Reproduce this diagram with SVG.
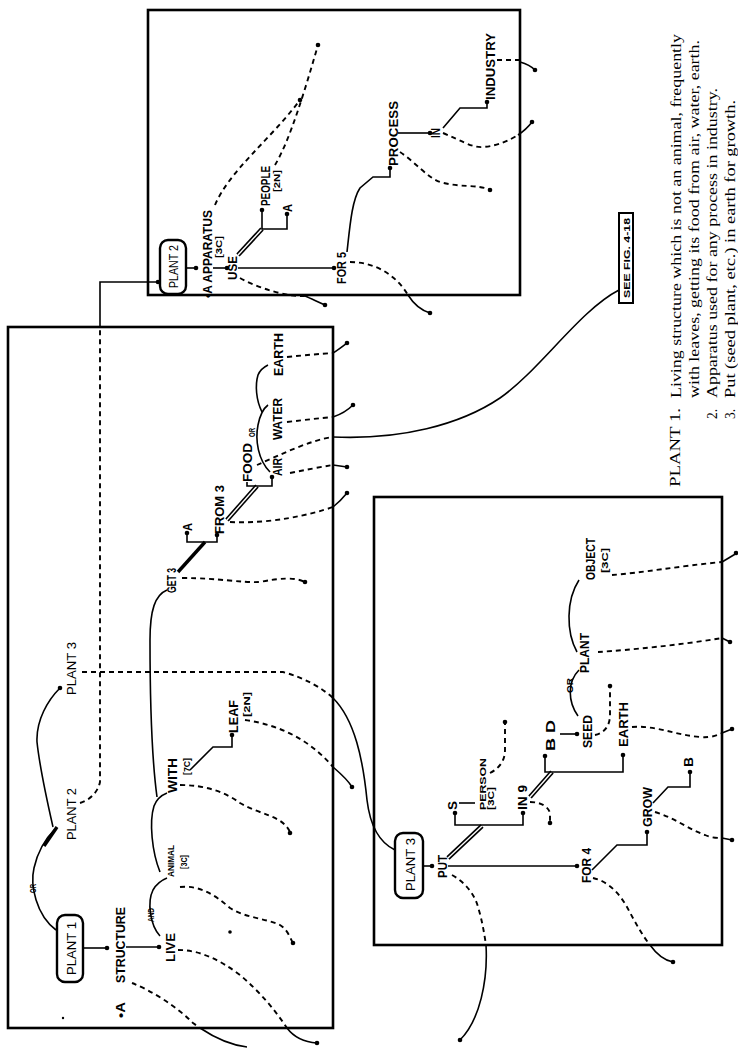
<svg xmlns="http://www.w3.org/2000/svg" width="738" height="1048" viewBox="0 0 738 1048">
<style>
.box{fill:none;stroke:#000;stroke-width:2.6}
.ln{fill:none;stroke:#000;stroke-width:1.6}
.tk{fill:none;stroke:#000;stroke-width:3.4}
.dl{fill:none;stroke:#000;stroke-width:4.6}
.dw{fill:none;stroke:#fff;stroke-width:1.4}
.ds{fill:none;stroke:#000;stroke-width:1.9;stroke-dasharray:5 4}
.node{fill:#fff;stroke:#000;stroke-width:2.4}
.t{font-family:"Liberation Sans",Arial,sans-serif;font-weight:bold;font-size:13px}
.s{font-family:"Liberation Sans",Arial,sans-serif;font-weight:bold;font-size:9px}
.p{font-family:"Liberation Sans",Arial,sans-serif;font-size:13px}
.r{font-family:"Liberation Serif","Times New Roman",serif;font-size:14.5px}
</style>
<defs>
<circle id="d" r="2.3" fill="#000"/>
</defs>
<rect class="box" x="8" y="327" width="325" height="701"/>
<rect class="box" x="148" y="10" width="372" height="285"/>
<rect class="box" x="374" y="497" width="348" height="448"/>

<g id="connectors">
<!-- box 1 -->
<path class="ln" d="M83,948 H107"/><use href="#d" x="107" y="948"/>
<path class="ln" d="M126,947 H159"/><use href="#d" x="159" y="947"/>
<path class="ln" d="M56,930 C36,915 30,885 34,868 C38,850 46,838 55,829"/>
<path class="tk" d="M44,846 L57,827"/>
<path class="ln" d="M53,827 C48,805 40,770 37,742 C36,720 48,700 60,688"/><use href="#d" x="60" y="688"/>
<path class="ds" d="M80,803 C90,800 98,792 100,782 V327"/>
<path class="ln" d="M100,327 V282 H158"/><use href="#d" x="158" y="282"/>
<path class="ds" d="M82,672 H283 C305,678 322,688 333,698"/>
<path class="ln" d="M333,698 C355,720 363,760 367,800 C370,825 378,842 395,850"/>
<path class="ln" d="M160,936 C150,925 147,902 153,890 C157,883 162,880 167,878"/>
<path class="ln" d="M160,872 C152,852 149,822 154,806 C157,798 162,795 167,793"/>
<path class="ln" d="M157,797 C152,760 150,700 150,640 C150,610 155,595 167,590"/>
<path class="tk" d="M178,572 L205,542"/>
<path class="ln" d="M187,533 V542 H217 V535"/><use href="#d" x="187" y="533"/><use href="#d" x="217" y="535"/>
<path class="dl" d="M227,520 L257,486"/><path class="dw" d="M227,520 L257,486"/>
<path class="ln" d="M257,486 H247 V482"/><path class="ln" d="M257,486 H272 V477"/><use href="#d" x="272" y="477"/>
<path class="ln" d="M270,472 C258,460 255,440 258,425 C260,415 264,408 268,405"/>
<path class="ln" d="M262,412 C256,400 255,385 258,375 C260,370 264,367 268,365"/>
<path class="ds" d="M287,357 C305,355 320,354 333,353"/><path class="ln" d="M333,353 C338,350 343,346 347,343"/><use href="#d" x="347" y="343"/>
<path class="ds" d="M287,422 C305,420 320,418 333,417"/><path class="ln" d="M333,417 C342,414 348,410 353,405"/><use href="#d" x="353" y="405"/>
<path class="ds" d="M257,465 C280,455 310,440 333,437"/>
<path class="ln" d="M333,437 C400,440 460,425 500,398 C540,370 580,310 619,290"/>
<path class="ds" d="M290,473 C305,470 320,467 333,465"/><path class="ln" d="M333,465 L347,467"/><use href="#d" x="347" y="467"/>
<path class="ds" d="M230,522 C270,524 310,515 333,507"/><path class="ln" d="M333,507 C338,503 343,498 347,493"/><use href="#d" x="347" y="493"/>
<path class="ds" d="M182,578 C220,578 240,583 260,582 C280,578 295,577 305,582"/><use href="#d" x="305" y="582"/>
<path class="ln" d="M190,770 L213,747 H232 V735"/><use href="#d" x="232" y="735"/>
<path class="ds" d="M245,720 C280,725 310,740 333,767"/><path class="ln" d="M333,767 C340,773 348,780 352,787"/><use href="#d" x="352" y="787"/>
<path class="ds" d="M180,785 C205,785 225,792 240,803 C260,815 282,815 290,832"/><use href="#d" x="290" y="833"/>
<path class="ds" d="M180,887 C200,885 215,895 230,908 C245,918 265,918 280,925 C288,930 290,938 293,943"/><use href="#d" x="293" y="943"/>
<path class="ds" d="M178,950 C200,950 220,960 240,975 C260,992 275,1010 287,1028"/><path class="ln" d="M287,1028 C293,1036 302,1042 317,1043"/><use href="#d" x="317" y="1043"/>
<path class="ds" d="M132,983 C150,990 175,1005 193,1023 L200,1028"/><path class="ln" d="M200,1028 C215,1038 230,1045 247,1047"/>
<!-- box 2 -->
<path class="ln" d="M186,268 H196"/><use href="#d" x="196" y="268"/>
<path class="ln" d="M213,268 H227"/><use href="#d" x="227" y="268"/>
<path class="ln" d="M238,268 H334"/><use href="#d" x="334" y="268"/>
<path class="dl" d="M238,255 L262,229"/><path class="dw" d="M238,255 L262,229"/>
<path class="ln" d="M262,212 V229 H287 V214"/><use href="#d" x="262" y="210"/><use href="#d" x="287" y="214"/>
<path class="ln" d="M347,252 C350,225 352,200 360,188 L373,177 H390 V168"/><use href="#d" x="390" y="168"/>
<path class="ln" d="M398,133 H430"/><use href="#d" x="430" y="133"/>
<path class="ln" d="M443,128 L460,108 H487 V102"/><use href="#d" x="487" y="102"/>
<path class="ds" d="M497,60 H520"/><path class="ln" d="M520,62 C527,64 532,67 535,70"/><use href="#d" x="535" y="70"/>
<path class="ds" d="M443,133 C460,140 472,148 483,147 C498,146 510,140 518,135"/><path class="ln" d="M518,135 C524,131 529,126 532,122"/><use href="#d" x="532" y="122"/>
<path class="ds" d="M400,152 C415,162 428,178 440,182 C460,188 478,184 490,190"/><use href="#d" x="490" y="190"/>
<path class="ds" d="M350,262 C375,262 396,275 408,295"/><path class="ln" d="M408,295 C413,303 420,310 430,313"/><use href="#d" x="430" y="313"/>
<path class="ds" d="M240,278 C262,290 290,297 305,296"/><path class="ln" d="M305,296 C312,299 318,302 325,305"/><use href="#d" x="325" y="305"/>
<path class="ds" d="M215,205 C230,170 270,140 300,100"/><use href="#d" x="300" y="100"/>
<path class="ds" d="M275,165 C290,140 305,90 318,45"/><use href="#d" x="318" y="45"/>
<!-- box 3 -->
<path class="ln" d="M423,866 H432"/><use href="#d" x="432" y="866"/>
<path class="ln" d="M448,866 H577"/><use href="#d" x="577" y="866"/>
<path class="dl" d="M448,858 L482,826"/><path class="dw" d="M448,858 L482,826"/>
<path class="ln" d="M455,813 V825 H523 V813"/><use href="#d" x="455" y="813"/><use href="#d" x="523" y="813"/>
<path class="ln" d="M459,803 H475"/>
<path class="dl" d="M530,797 L552,772"/><path class="dw" d="M530,797 L552,772"/>
<path class="ln" d="M545,757 V772 H623 V755"/><use href="#d" x="545" y="756"/><use href="#d" x="623" y="755"/>
<path class="ln" d="M560,734 H577"/><use href="#d" x="577" y="734"/>
<path class="ln" d="M578,716 C568,702 567,682 579,670"/>
<path class="ln" d="M577,652 C566,632 566,600 579,580"/>
<path class="ln" d="M592,870 L617,845 H647 V832"/><use href="#d" x="647" y="832"/>
<path class="ln" d="M653,803 L668,787 H690 V772"/><use href="#d" x="690" y="772"/>
<path class="ds" d="M490,773 C500,768 505,760 505,750 L505,722"/><use href="#d" x="505" y="722"/>
<path class="ds" d="M530,802 C540,802 548,806 550,813 L550,823"/><use href="#d" x="550" y="823"/>
<path class="ds" d="M595,735 C605,733 610,725 610,715 L610,686"/><use href="#d" x="610" y="686"/>
<path class="ds" d="M632,727 C655,725 675,735 700,737 C712,738 718,735 722,733"/><path class="ln" d="M722,733 L732,729"/><use href="#d" x="732" y="729"/>
<path class="ds" d="M598,652 C630,650 680,645 722,638"/><path class="ln" d="M722,638 L730,642"/><use href="#d" x="730" y="642"/>
<path class="ds" d="M612,575 C640,573 680,566 722,562"/><path class="ln" d="M722,562 L737,553"/><use href="#d" x="736" y="553"/>
<path class="ds" d="M655,812 C675,818 690,830 705,835 C712,838 718,838 722,838"/><path class="ln" d="M722,838 L732,840"/><use href="#d" x="732" y="840"/>
<path class="ds" d="M593,878 C610,882 620,895 627,907 C635,922 642,935 650,945"/><path class="ln" d="M650,945 C655,952 662,960 673,962"/><use href="#d" x="673" y="962"/>
<path class="ds" d="M452,875 C465,882 475,895 478,907 C482,920 484,932 486,945"/><path class="ln" d="M486,945 C488,980 480,1020 460,1040"/><use href="#d" x="460" y="1040"/>
</g>

<g id="plant1"><rect class="node" x="57" y="915" width="26" height="67" rx="8"/><text class="p" transform="translate(76,975) rotate(-90)" textLength="53" lengthAdjust="spacingAndGlyphs">PLANT 1</text></g>
<g id="structure"><text class="t" transform="translate(125,983) rotate(-90)" textLength="76" lengthAdjust="spacingAndGlyphs">STRUCTURE</text></g>
<g id="a1"><text class="t" transform="translate(125,1018) rotate(-90)" textLength="16" lengthAdjust="spacingAndGlyphs">•A</text></g>
<g id="live"><text class="t" transform="translate(175,962) rotate(-90)" textLength="29" lengthAdjust="spacingAndGlyphs">LIVE</text></g>
<g id="or1"><text class="s" transform="translate(36,893) rotate(-90)" textLength="9" lengthAdjust="spacingAndGlyphs">OR</text></g>
<g id="plant2lbl"><text class="p" transform="translate(76,840) rotate(-90)" textLength="52" lengthAdjust="spacingAndGlyphs">PLANT 2</text></g>
<g id="plant3lbl"><text class="p" transform="translate(76,695) rotate(-90)" textLength="53" lengthAdjust="spacingAndGlyphs">PLANT 3</text></g>
<g id="and"><text class="s" transform="translate(154,922) rotate(-90)" textLength="14" lengthAdjust="spacingAndGlyphs">AND</text></g>
<g id="animal"><text class="s" transform="translate(174,877) rotate(-90)" textLength="32" lengthAdjust="spacingAndGlyphs">ANIMAL</text><text class="s" transform="translate(187,869) rotate(-90)" textLength="14" lengthAdjust="spacingAndGlyphs">[3C]</text></g>
<g id="with"><text class="t" transform="translate(177,793) rotate(-90)" textLength="35" lengthAdjust="spacingAndGlyphs">WITH</text><text class="s" transform="translate(190,775) rotate(-90)" textLength="17" lengthAdjust="spacingAndGlyphs">[7C]</text></g>
<g id="leaf"><text class="t" transform="translate(238,733) rotate(-90)" textLength="33" lengthAdjust="spacingAndGlyphs">LEAF</text><text class="s" transform="translate(250,717) rotate(-90)" textLength="25" lengthAdjust="spacingAndGlyphs">[2N]</text></g>
<g id="get3"><text class="t" transform="translate(176,593) rotate(-90)" textLength="25" lengthAdjust="spacingAndGlyphs">GET 3</text></g>
<g id="a2"><text class="t" transform="translate(192,531) rotate(-90)" textLength="8" lengthAdjust="spacingAndGlyphs">A</text></g>
<g id="from3"><text class="t" transform="translate(224,534) rotate(-90)" textLength="49" lengthAdjust="spacingAndGlyphs">FROM 3</text></g>
<g id="food"><text class="t" transform="translate(252,482) rotate(-90)" textLength="39" lengthAdjust="spacingAndGlyphs">FOOD</text></g>
<g id="or2"><text class="s" transform="translate(255,437) rotate(-90)" textLength="9" lengthAdjust="spacingAndGlyphs">OR</text></g>
<g id="air"><text class="t" transform="translate(282,476) rotate(-90)" textLength="18" lengthAdjust="spacingAndGlyphs">AIR</text></g>
<g id="water"><text class="t" transform="translate(282,440) rotate(-90)" textLength="42" lengthAdjust="spacingAndGlyphs">WATER</text></g>
<g id="earth1"><text class="t" transform="translate(283,376) rotate(-90)" textLength="43" lengthAdjust="spacingAndGlyphs">EARTH</text></g>
<g id="dots"><circle cx="63" cy="1018" r="1.2"/><circle cx="230" cy="932" r="1.8"/></g>

<g id="plant2"><rect class="node" x="160" y="240" width="26" height="54" rx="8"/><text class="p" transform="translate(178,288) rotate(-90)" textLength="43" lengthAdjust="spacingAndGlyphs">PLANT 2</text></g>
<g id="apparatus"><text class="t" transform="translate(212,298) rotate(-90)" textLength="88" lengthAdjust="spacingAndGlyphs">•A APPARATUS</text><text class="s" transform="translate(222,258) rotate(-90)" textLength="22" lengthAdjust="spacingAndGlyphs">[3C]</text></g>
<g id="use"><text class="t" transform="translate(237,280) rotate(-90)" textLength="24" lengthAdjust="spacingAndGlyphs">USE</text></g>
<g id="people"><text class="t" transform="translate(270,206) rotate(-90)" textLength="40" lengthAdjust="spacingAndGlyphs">PEOPLE</text><text class="s" transform="translate(280,192) rotate(-90)" textLength="22" lengthAdjust="spacingAndGlyphs">[2N]</text></g>
<g id="a3"><text class="t" transform="translate(292,212) rotate(-90)" textLength="8" lengthAdjust="spacingAndGlyphs">A</text></g>
<g id="for5"><text class="t" transform="translate(346,284) rotate(-90)" textLength="32" lengthAdjust="spacingAndGlyphs">FOR 5</text></g>
<g id="process"><text class="t" transform="translate(398,166) rotate(-90)" textLength="65" lengthAdjust="spacingAndGlyphs">PROCESS</text></g>
<g id="in"><text class="t" transform="translate(440,138) rotate(-90)" textLength="10" lengthAdjust="spacingAndGlyphs">IN</text></g>
<g id="industry"><text class="t" transform="translate(495,100) rotate(-90)" textLength="67" lengthAdjust="spacingAndGlyphs">INDUSTRY</text></g>

<g id="plant3"><rect class="node" x="395" y="833" width="28" height="65" rx="8"/><text class="p" transform="translate(415,891) rotate(-90)" textLength="53" lengthAdjust="spacingAndGlyphs">PLANT 3</text></g>
<g id="put"><text class="t" transform="translate(447,878) rotate(-90)" textLength="23" lengthAdjust="spacingAndGlyphs">PUT</text></g>
<g id="s"><text class="t" transform="translate(457,810) rotate(-90)" textLength="9" lengthAdjust="spacingAndGlyphs">S</text></g>
<g id="person"><text class="s" transform="translate(486,810) rotate(-90)" textLength="52" lengthAdjust="spacingAndGlyphs">PERSON</text><text class="s" transform="translate(494,810) rotate(-90)" textLength="23" lengthAdjust="spacingAndGlyphs">[3C]</text></g>
<g id="in9"><text class="t" transform="translate(527,810) rotate(-90)" textLength="25" lengthAdjust="spacingAndGlyphs">IN 9</text></g>
<g id="bd"><text class="t" transform="translate(555,751) rotate(-90)" textLength="31" lengthAdjust="spacingAndGlyphs">B  D</text></g>
<g id="seed"><text class="t" transform="translate(592,748) rotate(-90)" textLength="33" lengthAdjust="spacingAndGlyphs">SEED</text></g>
<g id="earth2"><text class="t" transform="translate(628,747) rotate(-90)" textLength="45" lengthAdjust="spacingAndGlyphs">EARTH</text></g>
<g id="or3"><text class="s" transform="translate(573,693) rotate(-90)" textLength="15" lengthAdjust="spacingAndGlyphs">OR</text></g>
<g id="plant"><text class="t" transform="translate(589,673) rotate(-90)" textLength="40" lengthAdjust="spacingAndGlyphs">PLANT</text></g>
<g id="object"><text class="t" transform="translate(595,580) rotate(-90)" textLength="42" lengthAdjust="spacingAndGlyphs">OBJECT</text><text class="s" transform="translate(608,573) rotate(-90)" textLength="25" lengthAdjust="spacingAndGlyphs">[3C]</text></g>
<g id="for4"><text class="t" transform="translate(591,883) rotate(-90)" textLength="35" lengthAdjust="spacingAndGlyphs">FOR 4</text></g>
<g id="grow"><text class="t" transform="translate(652,827) rotate(-90)" textLength="40" lengthAdjust="spacingAndGlyphs">GROW</text></g>
<g id="b2"><text class="t" transform="translate(693,767) rotate(-90)" textLength="10" lengthAdjust="spacingAndGlyphs">B</text></g>

<g id="seefig"><rect fill="#fff" stroke="#000" stroke-width="2" x="619" y="213" width="14" height="90"/><text class="s" transform="translate(630,298) rotate(-90)" textLength="80" lengthAdjust="spacingAndGlyphs">SEE FIG. 4-18</text></g>

<g id="legend">
<text class="r" transform="translate(680,487) rotate(-90)" textLength="79" lengthAdjust="spacingAndGlyphs">PLANT 1.</text>
<text class="r" transform="translate(681,398) rotate(-90)" textLength="364" lengthAdjust="spacingAndGlyphs">Living structure which is not an animal, frequently</text>
<text class="r" transform="translate(699,398) rotate(-90)" textLength="358" lengthAdjust="spacingAndGlyphs">with leaves, getting its food from air, water, earth.</text>
<text class="r" transform="translate(717,419) rotate(-90)" textLength="10" lengthAdjust="spacingAndGlyphs">2.</text>
<text class="r" transform="translate(717,398) rotate(-90)" textLength="310" lengthAdjust="spacingAndGlyphs">Apparatus used for any process in industry.</text>
<text class="r" transform="translate(735,419) rotate(-90)" textLength="10" lengthAdjust="spacingAndGlyphs">3.</text>
<text class="r" transform="translate(735,398) rotate(-90)" textLength="298" lengthAdjust="spacingAndGlyphs">Put (seed plant, etc.) in earth for growth.</text>
</g>
</svg>
